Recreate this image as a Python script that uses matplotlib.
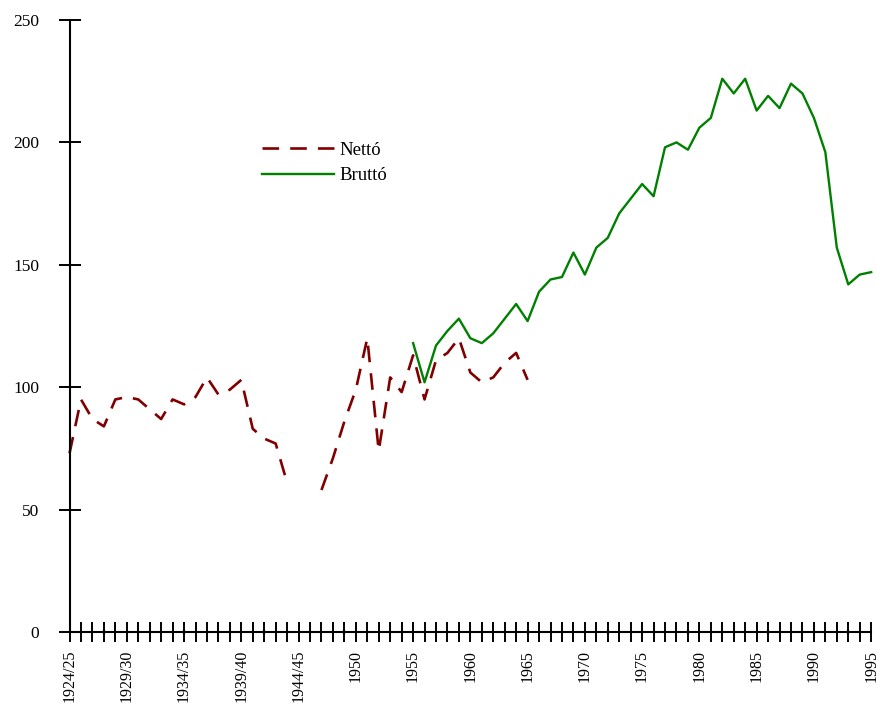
import numpy as np
import matplotlib
matplotlib.use("Agg")
import matplotlib.pyplot as plt
from matplotlib.ticker import MultipleLocator, FixedLocator, FixedFormatter

# periods: farm years up to 1948/49, calendar years from 1950
periods = [f"{y}/{(y + 1) % 100:02d}" for y in range(1924, 1949)] + [str(y) for y in range(1950, 1996)]

# Nettó index, 1924/25 .. 1964 (war years missing)
netto = [73, 95, 87, 84, 95, 96, 95, 91, 87, 95,
         93, 96, 104, 97, 99, 103, 83, 79, 77, 61,
         np.nan, np.nan, 58, 71, 86, 99, 120, 74, 104, 98,
         113, 95, 111, 114, 120, 106, 102, 104, 110, 114,
         103]
# Bruttó index, 1955 .. 1995
brutto = [118, 102, 117, 123, 128, 120, 118, 122, 128, 134,
          127, 139, 144, 145, 155, 146, 157, 161, 171, 177,
          183, 178, 198, 200, 197, 206, 210, 226, 220, 226,
          213, 219, 214, 224, 220, 210, 196, 157, 142, 146,
          147]
BRUTTO_START = periods.index("1955")

plt.rcParams["font.family"] = ["Liberation Serif", "DejaVu Serif"]

fig = plt.figure(figsize=(8.78, 7.06), dpi=100)
ax = fig.add_axes([0.0792, 0.1048, 0.9130, 0.8669])

x_all = np.arange(len(periods))
ax.plot(x_all[:len(netto)], netto, color="#800000", lw=1.9,
        linestyle=(0, (6.3, 4.2)), label="Nettó", clip_on=False)
ax.plot(x_all[BRUTTO_START:BRUTTO_START + len(brutto)], brutto, color="#008000",
        lw=1.7, label="Bruttó", clip_on=False)

ax.set_xlim(0, len(periods) - 1)
ax.set_ylim(0, 250)

for s in ("top", "right"):
    ax.spines[s].set_visible(False)
for s in ("left", "bottom"):
    ax.spines[s].set_linewidth(1.5)

major = list(range(0, len(periods), 5))
ax.xaxis.set_major_locator(FixedLocator(major))
ax.xaxis.set_major_formatter(FixedFormatter([periods[i] for i in major]))
ax.xaxis.set_minor_locator(MultipleLocator(1))
ax.yaxis.set_major_locator(MultipleLocator(50))

ax.tick_params(axis="x", which="both", direction="inout", length=13.7, width=1.4,
               pad=6, labelsize=11.5, labelrotation=90)
ax.tick_params(axis="y", direction="inout", length=15.8, width=1.4, pad=14, labelsize=12.5)

ax.legend(loc="upper left", bbox_to_anchor=(0.240, 0.801), frameon=False, fontsize=13.5,
          borderpad=0, borderaxespad=0, handlelength=3.85, handletextpad=0.3,
          labelspacing=0.45)

fig.savefig("out.png", dpi=100)
